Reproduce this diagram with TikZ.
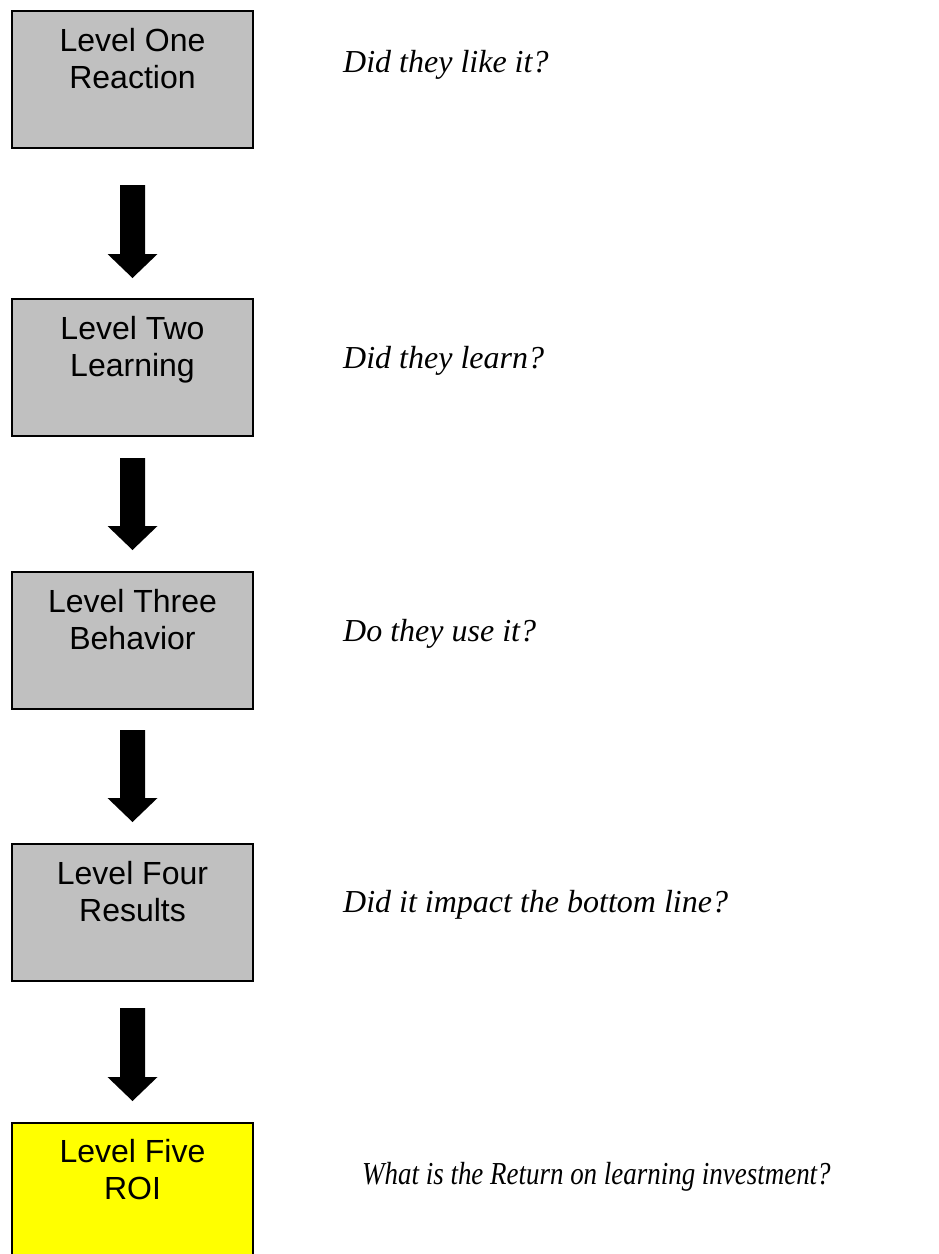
\documentclass[tikz,border=0pt]{standalone}
\usepackage{graphicx}
\usepackage{fontspec}
\setmainfont{Liberation Serif}
\newfontfamily\arialfont{Liberation Sans}
\usetikzlibrary{calc}
\definecolor{boxgray}{RGB}{192,192,192}
\definecolor{boxyellow}{RGB}{255,255,0}
\tikzset{
  levelbox/.style={draw=black, line width=2pt, fill=boxgray, minimum width=241pt, minimum height=137pt, inner sep=0pt, outer sep=0pt},
  roibox/.style={levelbox, fill=boxyellow},
  boxtext/.style={font=\arialfont\fontsize{32}{37}\selectfont, align=center, inner sep=0pt, anchor=base},
  question/.style={font=\fontsize{32}{37}\selectfont\itshape, inner sep=0pt, anchor=base west},
  arrowfill/.style={fill=black}
}
\newcommand\blockarr[2]{%
  \fill[arrowfill] (#1) ++(-12.5,0) -- ++(25,0) -- ($(#2)+(12.5,-24)$) -- ($(#2)+(25,-24)$) -- (#2) -- ($(#2)+(-25,-24)$) -- ($(#2)+(-12.5,-24)$) -- cycle;}
\begin{document}
\begin{tikzpicture}[x=1pt,y=-1pt]
\useasboundingbox (0,0) rectangle (938,1254);
\clip (0,0) rectangle (938,1254);
% boxes
\node[levelbox] (b1) at (132.5,79.5) {};
\node[levelbox] (b2) at (132.5,367.5) {};
\node[levelbox] (b3) at (132.5,640.5) {};
\node[levelbox] (b4) at (132.5,912.5) {};
\node[roibox]   (b5) at (132.5,1191.5) {};
% box labels (base anchor = baseline of the last line)
\node[boxtext] (t1) at ($(b1.north)+(0,77)$) {Level One\\Reaction};
\node[boxtext] (t2) at ($(b2.north)+(0,77)$) {Level Two\\Learning};
\node[boxtext] (t3) at ($(b3.north)+(0,77)$) {Level Three\\Behavior};
\node[boxtext] (t4) at ($(b4.north)+(0,77)$) {Level Four\\Results};
\node[boxtext] (t5) at ($(b5.north)+(0,76)$) {Level Five\\ROI};
% questions
\node[question] (q1) at (343,72) {Did they like it?};
\node[question] (q2) at (343,368) {Did they learn?};
\node[question] (q3) at (343,641) {Do they use it?};
\node[question] (q4) at (343,912) {Did it impact the bottom line?};
\node[question] (q5) at (362,1184) {\scalebox{0.842}[1]{What is the Return on learning investment?}};
% arrows
\coordinate (a1s) at ([yshift=-37pt]b1.south);
\coordinate (a1e) at ([yshift=21pt]b2.north);
\coordinate (a2s) at ([yshift=-22pt]b2.south);
\coordinate (a2e) at ([yshift=22pt]b3.north);
\coordinate (a3s) at ([yshift=-21pt]b3.south);
\coordinate (a3e) at ([yshift=22pt]b4.north);
\coordinate (a4s) at ([yshift=-27pt]b4.south);
\coordinate (a4e) at ([yshift=22pt]b5.north);
\blockarr{a1s}{a1e}
\blockarr{a2s}{a2e}
\blockarr{a3s}{a3e}
\blockarr{a4s}{a4e}
\end{tikzpicture}
\end{document}
